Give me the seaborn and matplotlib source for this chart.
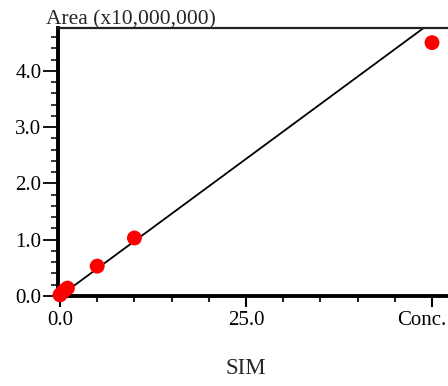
import matplotlib
matplotlib.use("Agg")
import matplotlib.pyplot as plt
import matplotlib.transforms as mtransforms
import seaborn as sns
import pandas as pd
import numpy as np
from matplotlib.ticker import MultipleLocator, FixedLocator, FixedFormatter

# calibration points (concentration, area in units of 10,000,000)
conc = [0.0, 0.5, 1.0, 5.0, 10.0, 50.0]
area = [0.02, 0.09, 0.14, 0.53, 1.03, 4.50]

# fitted calibration line
fit_slope = 0.0974
fit_intercept = 0.0
fit_x = [0.0, 52.0]

x_ticks = [0.0, 25.0, 50.0]
x_labels = ["0.0", "25.0", "Conc."]
y_ticks = [0.0, 1.0, 2.0, 3.0, 4.0]
y_labels = ["0.0", "1.0", "2.0", "3.0", "4.0"]

sns.set_style("white")
plt.rcParams['font.family'] = ['Liberation Serif', 'DejaVu Serif']

W, H = 448, 386
fig = plt.figure(figsize=(W / 100, H / 100), dpi=100)
ax = fig.add_axes([58 / W, 1 - 296 / H, (W - 58) / W, (296 - 28) / H])

df = pd.DataFrame({"conc": conc, "area": area})
line_df = pd.DataFrame({"x": fit_x,
                        "y": [fit_slope * v + fit_intercept for v in fit_x]})

sns.lineplot(data=line_df, x="x", y="y", color="black", linewidth=1.3, ax=ax)
sns.scatterplot(data=df, x="conc", y="area", color="#ff0000", s=115,
                edgecolor="none", ax=ax, clip_on=False, zorder=5)

ax.set_xlim(-0.27, 52.15)
ax.set_ylim(0, 4.76)

ax.xaxis.set_major_locator(FixedLocator(x_ticks))
ax.xaxis.set_major_formatter(FixedFormatter(x_labels))
ax.xaxis.set_minor_locator(MultipleLocator(5))
ax.yaxis.set_major_locator(FixedLocator(y_ticks))
ax.yaxis.set_major_formatter(FixedFormatter(y_labels))
ax.yaxis.set_minor_locator(MultipleLocator(0.2))

ax.tick_params(axis="y", which="major", direction="out", length=11, width=1.3,
               left=True, labelsize=15, pad=1, colors="black")
ax.tick_params(axis="y", which="minor", direction="out", length=5, width=1.3,
               left=True)
ax.tick_params(axis="x", which="major", direction="out", length=8, width=1.5,
               bottom=True, labelsize=15, pad=3, colors="black")
ax.tick_params(axis="x", which="minor", direction="out", length=4, width=1.5,
               bottom=True)

# shift the last x label left so it stays inside the figure
last = ax.get_xticklabels()[-1]
last.set_transform(last.get_transform() +
                   mtransforms.ScaledTranslation(-10 / 100, 0, fig.dpi_scale_trans))

ax.set_xlabel("")
ax.set_ylabel("")
for side in ["left", "bottom"]:
    ax.spines[side].set_linewidth(2.8)
    ax.spines[side].set_color("black")
ax.spines["top"].set_linewidth(1.6)
ax.spines["top"].set_color("#222222")
ax.spines["right"].set_visible(False)

fig.text(46 / W, 1 - 24 / H, "Area (x10,000,000)", fontsize=15.5,
         ha="left", va="baseline")
fig.text(246 / W, 1 - 369 / H, "SIM", fontsize=16.5, ha="center", va="center")

fig.savefig("out.png", dpi=100)
